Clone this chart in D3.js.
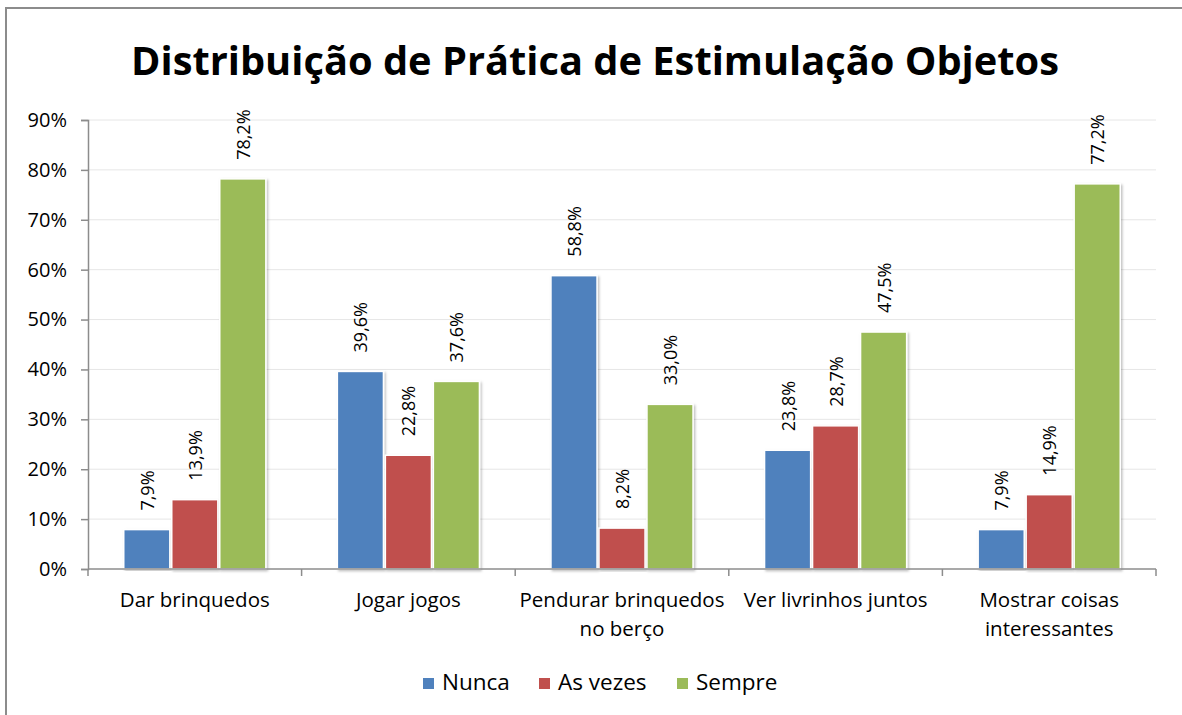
<!DOCTYPE html>
<html>
<head>
<meta charset="utf-8">
<script src="https://cdn.jsdelivr.net/npm/d3@7"></script>
<style>
  body { margin: 0; background: #fff; }
  text { font-family: "Open Sans", "Noto Sans", sans-serif; }
</style>
</head>
<body>
<svg width="1182" height="715"></svg>
<script>
const categories = ["Dar brinquedos", "Jogar jogos", "Pendurar brinquedos no berço", "Ver livrinhos juntos", "Mostrar coisas interessantes"];
const catLines = [["Dar brinquedos"], ["Jogar jogos"], ["Pendurar brinquedos", "no berço"], ["Ver livrinhos juntos"], ["Mostrar coisas", "interessantes"]];
const seriesNames = ["Nunca", "As vezes", "Sempre"];
const nunca = [7.9, 39.6, 58.8, 23.8, 7.9];
const asVezes = [13.9, 22.8, 8.2, 28.7, 14.9];
const sempre = [78.2, 37.6, 33.0, 47.5, 77.2];
const yTicks = [0, 10, 20, 30, 40, 50, 60, 70, 80, 90];
const colors = ["#4F81BD", "#C0504D", "#9BBB59"];

const values = [nunca, asVezes, sempre];
const svg = d3.select("svg");

// soft shadow like the spreadsheet bars
const defs = svg.append("defs");
defs.append("filter").attr("id", "shadow")
    .attr("x", "-20%").attr("y", "-5%").attr("width", "140%").attr("height", "110%")
    .append("feDropShadow")
    .attr("dx", 1.5).attr("dy", 1.5).attr("stdDeviation", 1.2)
    .attr("flood-color", "#000").attr("flood-opacity", 0.25);

// outer frame (only top and left edges visible)
svg.append("path")
    .attr("d", "M6,715 V8 H1182")
    .attr("fill", "none")
    .attr("stroke", "#8c8c8c")
    .attr("stroke-width", 2);

const plotLeft = 88, plotRight = 1156, plotTop = 120, plotBottom = 569;

const x = d3.scaleBand().domain(categories).range([plotLeft, plotRight]).paddingInner(0).paddingOuter(0);
const xs = d3.scaleBand().domain(seriesNames).range([0, x.bandwidth()]).paddingOuter(0.745).paddingInner(0.04);
const y = d3.scaleLinear().domain([0, 90]).range([plotBottom, plotTop]);

// title
svg.append("text")
    .attr("x", 595).attr("y", 75)
    .attr("text-anchor", "middle")
    .attr("font-weight", "bold")
    .attr("font-size", 39.8)
    .attr("fill", "#000")
    .text("Distribuição de Prática de Estimulação Objetos");

// gridlines
svg.append("g").selectAll("line")
    .data(yTicks.filter(d => d > 0))
    .join("line")
    .attr("x1", plotLeft).attr("x2", plotRight)
    .attr("y1", d => y(d)).attr("y2", d => y(d))
    .attr("stroke", "#e6e6e6").attr("stroke-width", 1);

// y axis
const yAxis = svg.append("g")
    .attr("transform", `translate(${plotLeft},0)`)
    .call(d3.axisLeft(y).tickValues(yTicks).tickFormat(d => d + "%").tickSize(7).tickPadding(14));
yAxis.select(".domain").attr("stroke", "#8c8c8c").attr("stroke-width", 1.5);
yAxis.selectAll(".tick line").attr("stroke", "#8c8c8c").attr("stroke-width", 1.5);
yAxis.selectAll(".tick text").attr("font-size", 20).attr("fill", "#000")
    .style("font-family", "'Open Sans', sans-serif");

// bars
const groups = svg.append("g").selectAll("g")
    .data(categories)
    .join("g")
    .attr("transform", d => `translate(${x(d)},0)`);

groups.selectAll("rect")
    .data((d, i) => seriesNames.map((s, j) => ({s, j, v: values[j][i]})))
    .join("rect")
    .attr("x", d => xs(d.s))
    .attr("y", d => y(d.v))
    .attr("width", xs.bandwidth())
    .attr("height", d => y(0) - y(d.v))
    .attr("fill", d => colors[d.j])
    .attr("stroke", "#fff")
    .attr("stroke-width", 1.5)
    .attr("filter", "url(#shadow)");

// data labels (rotated)
groups.selectAll("text.lbl")
    .data((d, i) => seriesNames.map((s, j) => ({s, j, v: values[j][i]})))
    .join("text")
    .attr("class", "lbl")
    .attr("transform", d => `translate(${xs(d.s) + xs.bandwidth() / 2 + 7},${y(d.v) - 19}) rotate(-90)`)
    .attr("font-size", 18)
    .attr("fill", "#000")
    .text(d => d.v.toFixed(1).replace(".", ",") + "%");

// x axis
svg.append("line")
    .attr("x1", plotLeft).attr("x2", plotRight)
    .attr("y1", plotBottom).attr("y2", plotBottom)
    .attr("stroke", "#8c8c8c").attr("stroke-width", 1.5);
svg.append("g").selectAll("line")
    .data(d3.range(categories.length + 1))
    .join("line")
    .attr("x1", i => plotLeft + i * x.bandwidth()).attr("x2", i => plotLeft + i * x.bandwidth())
    .attr("y1", plotBottom).attr("y2", plotBottom + 7)
    .attr("stroke", "#8c8c8c").attr("stroke-width", 1.5);

groups.each(function(d, i) {
    const t = d3.select(this).append("text")
        .attr("text-anchor", "middle")
        .attr("font-size", 20.5)
        .attr("fill", "#000");
    catLines[i].forEach((ln, k) => {
        t.append("tspan").attr("x", x.bandwidth() / 2).attr("y", 607 + k * 29).text(ln);
    });
});

// legend
const legendX = [421, 537, 675];
const legend = svg.append("g").selectAll("g")
    .data(seriesNames)
    .join("g")
    .attr("transform", (d, i) => `translate(${legendX[i]},684)`);
legend.append("rect")
    .attr("x", 2).attr("y", -6).attr("width", 11).attr("height", 11)
    .attr("fill", (d, i) => colors[i]);
legend.append("text")
    .attr("x", 21).attr("y", 0)
    .attr("dominant-baseline", "middle")
    .attr("font-size", 22.5)
    .attr("fill", "#000")
    .text(d => d);
</script>
</body>
</html>
